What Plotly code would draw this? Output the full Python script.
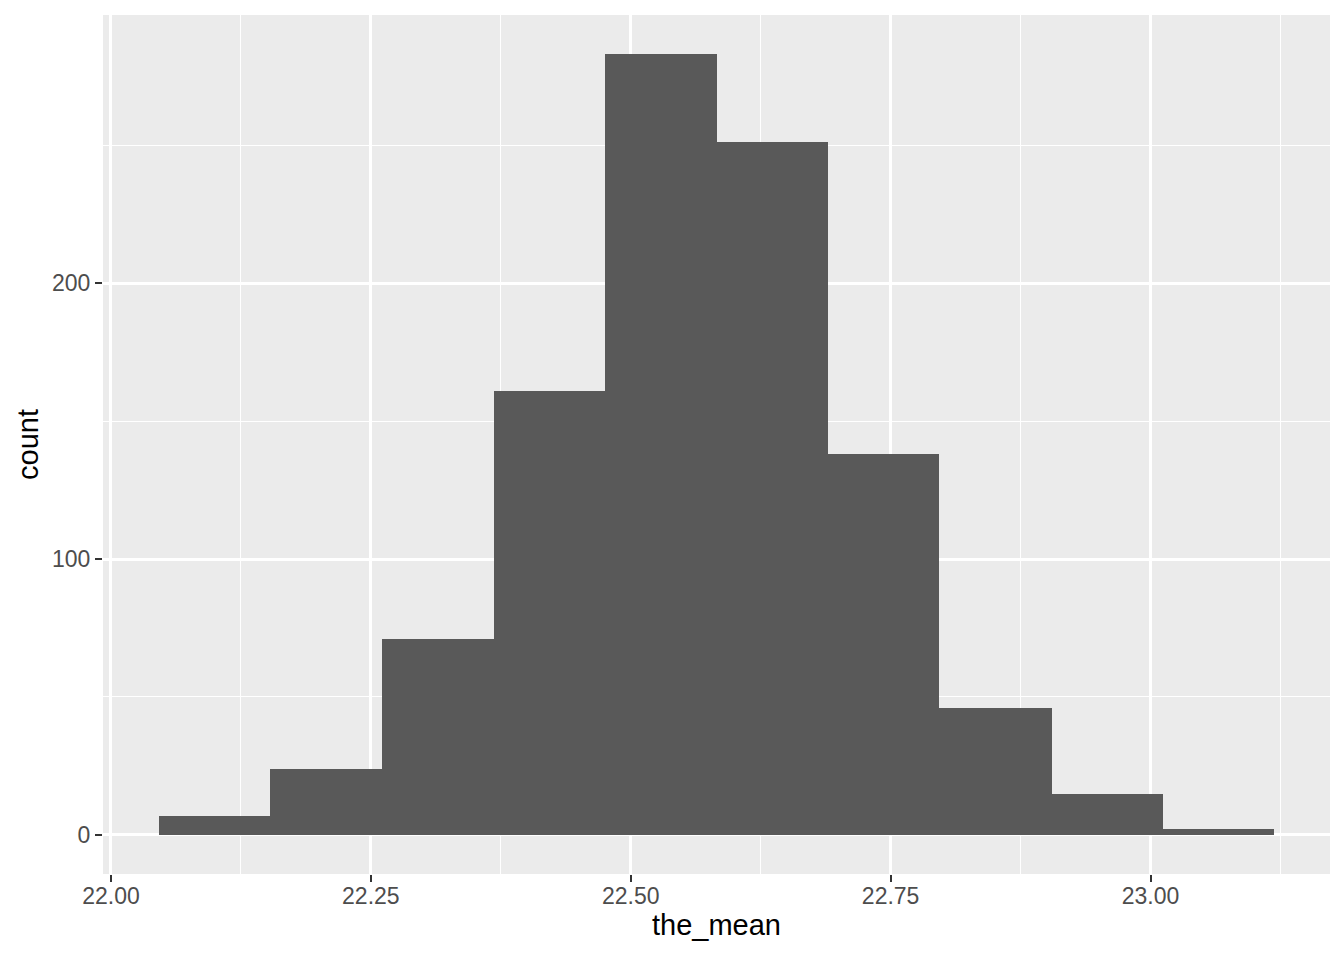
import plotly.graph_objects as go

# Histogram of the_mean: bin edges and counts
bin_edges = [22.046, 22.153, 22.261, 22.368, 22.475, 22.583,
             22.690, 22.797, 22.905, 23.012, 23.119]
counts = [7, 24, 71, 161, 283, 251, 138, 46, 15, 2]

x_ticks = [22.00, 22.25, 22.50, 22.75, 23.00]
x_tick_labels = ["22.00", "22.25", "22.50", "22.75", "23.00"]
y_ticks = [0, 100, 200]
y_tick_labels = ["0", "100", "200"]

centers = [(a + b) / 2 for a, b in zip(bin_edges[:-1], bin_edges[1:])]
widths = [b - a for a, b in zip(bin_edges[:-1], bin_edges[1:])]

span = bin_edges[-1] - bin_edges[0]
x_range = [bin_edges[0] - 0.05 * span, bin_edges[-1] + 0.05 * span]
ymax = max(counts)
y_range = [-0.05 * ymax, ymax * 1.05]

fig = go.Figure(go.Bar(
    x=centers, y=counts, width=widths,
    marker=dict(color="#595959", line=dict(width=0)),
    hoverinfo="x+y",
))

FONT = "Liberation Sans, Arial, sans-serif"

fig.update_layout(
    width=1344, height=960,
    margin=dict(l=95, r=22, t=7, b=94),
    paper_bgcolor="white",
    plot_bgcolor="#EBEBEB",
    showlegend=False,
    bargap=0,
    font=dict(family=FONT),
)

axis_common = dict(
    showline=False, zeroline=False,
    showgrid=True, gridcolor="white", gridwidth=2.7,
    ticks="outside", ticklen=7, tickwidth=2.2, tickcolor="#333333",
    tickfont=dict(family=FONT, size=23, color="#4D4D4D"),
    title_font=dict(family=FONT, size=29, color="black"),
)

fig.update_xaxes(
    range=x_range, tickvals=x_ticks, ticktext=x_tick_labels,
    title_text="the_mean", title_standoff=3, ticklabelstandoff=-6,
    minor=dict(tickvals=[22.125, 22.375, 22.625, 22.875, 23.125],
               showgrid=True, gridcolor="white", gridwidth=1.3, ticks=""),
    **axis_common,
)
fig.update_yaxes(
    range=y_range, tickvals=y_ticks, ticktext=y_tick_labels,
    title_text="count", title_standoff=4,
    minor=dict(tickvals=[50, 150, 250],
               showgrid=True, gridcolor="white", gridwidth=1.3, ticks=""),
    **axis_common,
)

fig.write_html("out.html")
